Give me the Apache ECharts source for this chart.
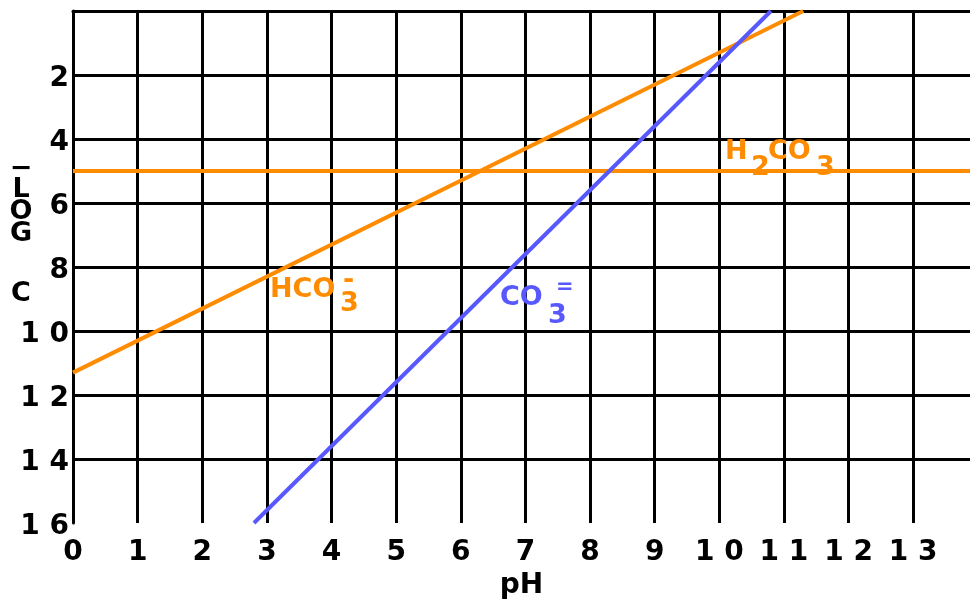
<!DOCTYPE html>
<html>
<head>
<meta charset="utf-8">
<script src="https://cdn.jsdelivr.net/npm/echarts@6/dist/echarts.min.js"></script>
<style>
  html, body { margin: 0; padding: 0; background: #fff; }
  #chart { width: 970px; height: 601px; }
</style>
</head>
<body>
<div id="chart"></div>
<script>
// Carbonate system: -log C of each species against pH

// tick labels
const pHTicks = ['0', '1', '2', '3', '4', '5', '6', '7', '8', '9', '10', '11', '12', '13'];
const logCTicks = ['', '2', '4', '6', '8', '10', '12', '14', '16'];

// species lines as [pH, -log C] end points
const h2co3Line = [[0, 5], [13.9, 5]];
const hco3Line = [[0, 11.3], [11.3, 0]];
const co3Line = [[2.8, 16], [10.8, 0]];

const ORANGE = '#ff8c00';
const BLUE = '#5858ff';
const TICK_FONT = 'DejaVu Sans';
const LABEL_FONT = 'bold 27px "DejaVu Sans"';

// two-digit ticks are drawn with a gap between the digits
const spaced = s => s.split('').join(' ');

const chart = echarts.init(document.getElementById('chart'), null, { renderer: 'canvas' });

chart.setOption({
  animation: false,
  backgroundColor: '#fff',
  grid: { left: 73, right: 0, top: 11, bottom: 78, containLabel: false, outerBoundsMode: 'none' },
  xAxis: {
    type: 'value',
    min: 0,
    max: 13.88,
    interval: 1,
    axisLine: { show: true, lineStyle: { color: '#000', width: 3 } },
    axisTick: { show: false },
    splitLine: { show: true, showMaxLine: false, lineStyle: { color: '#000', width: 3 } },
    axisLabel: {
      color: '#000',
      fontFamily: TICK_FONT,
      fontWeight: 'bold',
      fontSize: 28,
      margin: 16,
      formatter: v => (Number.isInteger(v) && pHTicks[v] !== undefined) ? spaced(pHTicks[v]) : ''
    },
    name: 'pH',
    nameLocation: 'middle',
    nameGap: 46,
    nameTextStyle: { color: '#000', fontFamily: TICK_FONT, fontWeight: 'bold', fontSize: 28 }
  },
  yAxis: {
    type: 'value',
    inverse: true,
    min: 0,
    max: 16,
    interval: 2,
    axisLine: { show: true, lineStyle: { color: '#000', width: 3 } },
    axisTick: { show: false },
    splitLine: { show: true, showMinLine: true, showMaxLine: false, lineStyle: { color: '#000', width: 3 } },
    axisLabel: {
      color: '#000',
      fontFamily: TICK_FONT,
      fontWeight: 'bold',
      fontSize: 28,
      verticalAlign: 'top',
      lineHeight: 8,
      margin: 4,
      formatter: v => spaced(logCTicks[v / 2] || '')
    }
  },
  series: [
    {
      name: 'H2CO3', type: 'line', data: h2co3Line, showSymbol: false, silent: true,
      lineStyle: { color: ORANGE, width: 4 }, z: 3
    },
    {
      name: 'HCO3-', type: 'line', data: hco3Line, showSymbol: false, silent: true,
      lineStyle: { color: ORANGE, width: 4 }, z: 4
    },
    {
      name: 'CO3=', type: 'line', data: co3Line, showSymbol: false, silent: true,
      lineStyle: { color: BLUE, width: 4 }, z: 5
    }
  ],
  graphic: [
    // vertical axis title
    {
      type: 'text', x: 21, y: 158, z: 10,
      style: {
        text: '−\nL\nO\nG\n{gap| }\nC',
        font: 'bold 27px "DejaVu Sans"',
        fill: '#000',
        align: 'center',
        verticalAlign: 'top',
        lineHeight: 21.6,
        rich: { gap: { lineHeight: 38.6, fontSize: 10 } }
      }
    },
    // HCO3- label
    { type: 'text', x: 270, y: 290, z: 10, style: { text: 'HCO', font: LABEL_FONT, fill: ORANGE, verticalAlign: 'middle' } },
    { type: 'text', x: 340, y: 304, z: 10, style: { text: '3', font: LABEL_FONT, fill: ORANGE, verticalAlign: 'middle' } },
    { type: 'text', x: 343, y: 281, z: 10, style: { text: '-', font: LABEL_FONT, fill: ORANGE, verticalAlign: 'middle' } },
    // CO3= label
    { type: 'text', x: 500, y: 298, z: 10, style: { text: 'CO', font: LABEL_FONT, fill: BLUE, verticalAlign: 'middle' } },
    { type: 'text', x: 548, y: 316, z: 10, style: { text: '3', font: LABEL_FONT, fill: BLUE, verticalAlign: 'middle' } },
    { type: 'text', x: 556, y: 288, z: 10, style: { text: '=', font: 'bold 21px "DejaVu Sans"', fill: BLUE, verticalAlign: 'middle' } },
    // H2CO3 label
    { type: 'text', x: 725, y: 152, z: 10, style: { text: 'H', font: LABEL_FONT, fill: ORANGE, verticalAlign: 'middle' } },
    { type: 'text', x: 751, y: 168, z: 10, style: { text: '2', font: LABEL_FONT, fill: ORANGE, verticalAlign: 'middle' } },
    { type: 'text', x: 768, y: 152, z: 10, style: { text: 'CO', font: LABEL_FONT, fill: ORANGE, verticalAlign: 'middle' } },
    { type: 'text', x: 816, y: 168, z: 10, style: { text: '3', font: LABEL_FONT, fill: ORANGE, verticalAlign: 'middle' } }
  ]
});
</script>
</body>
</html>
